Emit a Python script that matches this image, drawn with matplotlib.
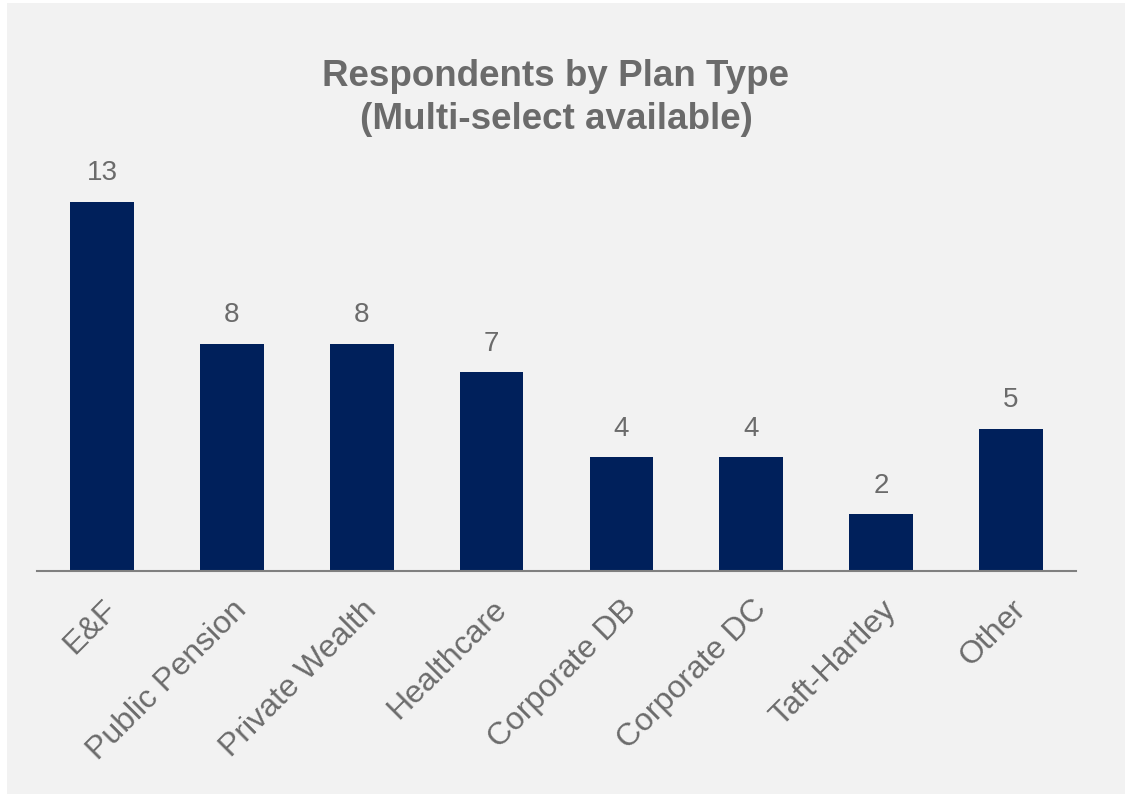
import matplotlib
matplotlib.use("Agg")
import matplotlib.pyplot as plt
from matplotlib.patches import Rectangle

plt.rcParams['font.family'] = ['Liberation Sans', 'DejaVu Sans']

categories = ["E&F", "Public Pension", "Private Wealth", "Healthcare",
              "Corporate DB", "Corporate DC", "Taft-Hartley", "Other"]
counts = [13, 8, 8, 7, 4, 4, 2, 5]

bg = "#f2f2f2"
navy = "#00205b"
grey_txt = "#6b6b6b"

fig = plt.figure(figsize=(11.25, 7.94), dpi=100, facecolor="white")
# grey panel (small white strip on left and top like the original)
fig.patches.append(Rectangle((7 / 1125, 0), 1 - 7 / 1125, 1 - 3 / 794,
                             transform=fig.transFigure, facecolor=bg,
                             edgecolor="none", zorder=-10))

# axes: x from 37 to 1076 px, baseline at y=571 px
left, right = 37 / 1125, 1076 / 1125
bottom = 1 - 571 / 794
ymax = 14.5
height = ymax * 28.4 / 794
ax = fig.add_axes([left, bottom, right - left, height])
ax.set_facecolor("none")

x = range(len(categories))
bars = ax.bar(x, counts, width=0.49, color=navy)
for xi, v in zip(x, counts):
    ax.text(xi, v + 0.55, str(v), ha="center", va="bottom",
            fontsize=20, color=grey_txt)

ax.set_xlim(-0.5, len(categories) - 0.5)
ax.set_ylim(0, ymax)
ax.set_yticks([])
ax.set_xticks(list(x))
ax.set_xticklabels(categories, rotation=45, ha="right", rotation_mode="anchor",
                   fontsize=23, color=grey_txt)
ax.tick_params(axis="x", length=0, pad=17)
for s in ["top", "right", "left"]:
    ax.spines[s].set_visible(False)
ax.spines["bottom"].set_color("#808080")
ax.spines["bottom"].set_linewidth(1.5)

fig.text(556 / 1125, 1 - 98 / 794, "Respondents by Plan Type\n(Multi-select available)",
         ha="center", va="center", fontsize=26.5, fontweight="bold",
         color=grey_txt, linespacing=1.3)

fig.savefig("out.png", dpi=100, facecolor="white")
